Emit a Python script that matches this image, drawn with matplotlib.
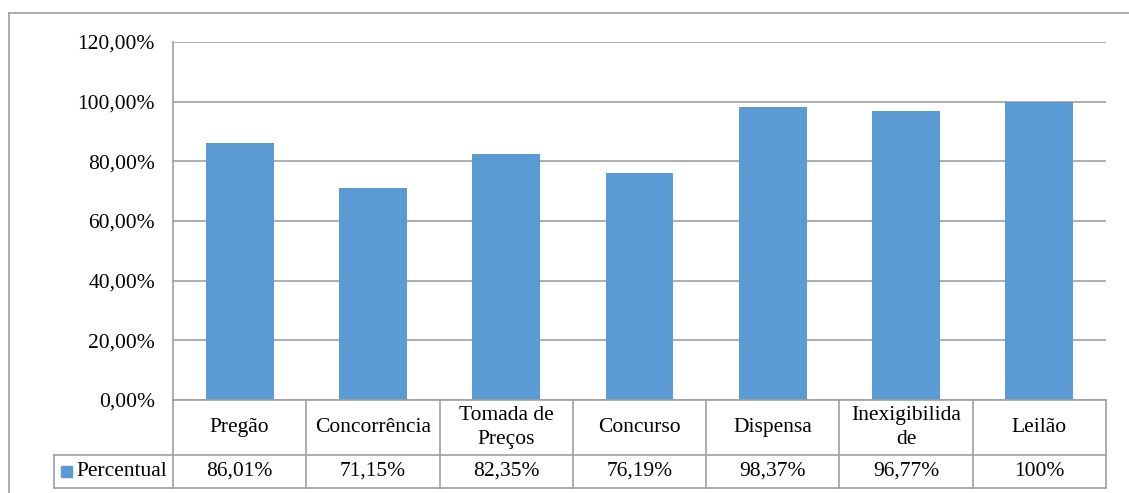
import matplotlib
matplotlib.use("Agg")
import matplotlib.pyplot as plt
from matplotlib.patches import Rectangle
from matplotlib.lines import Line2D
from matplotlib.transforms import blended_transform_factory

# procurement modalities and share (%)
categorias = ["Pregão", "Concorrência", "Tomada de\nPreços", "Concurso",
              "Dispensa", "Inexigibilida\nde", "Leilão"]
percentual = [86.01, 71.15, 82.35, 76.19, 98.37, 96.77, 100.0]
rotulos = ["86,01%", "71,15%", "82,35%", "76,19%", "98,37%", "96,77%", "100%"]
serie = "Percentual"

W, H = 1129, 493
azul = "#5B9BD5"
cinza = "#a0a0a0"
fs = 15.5

plt.rcParams["font.family"] = ["Liberation Serif", "DejaVu Serif"]

fig = plt.figure(figsize=(W / 100, H / 100), dpi=100)

def fx(x):
    return x / W

def fy(y):
    return 1 - y / H

# plot area
x0, x1, ytop, ybot = 173, 1106, 42, 400
ax = fig.add_axes([fx(x0), fy(ybot), fx(x1) - fx(x0), fy(ytop) - fy(ybot)])
n = len(categorias)
ax.bar(range(n), [v / 100 for v in percentual], width=0.51, color=azul, zorder=3)
ax.set_xlim(-0.5, n - 0.5)
ax.set_ylim(0, 1.2)
ticks = [0, 0.2, 0.4, 0.6, 0.8, 1.0, 1.2]
ax.set_yticks(ticks)
ax.set_yticklabels([f"{t*100:.2f}%".replace(".", ",") for t in ticks], fontsize=fs)
ax.tick_params(axis="y", length=0, pad=13)
ax.set_xticks([])
ax.grid(axis="y", color=cinza, linewidth=1.2, zorder=0)
for s in ["top", "right", "bottom"]:
    ax.spines[s].set_visible(False)
ax.spines["left"].set_color(cinza)
ax.spines["left"].set_linewidth(1.2)

# data table under the axis
tr = blended_transform_factory(ax.transData, fig.transFigure)
y_hdr, y_mid, y_end = 400, 455, 488
kw = dict(color=cinza, linewidth=1.2)
fig.add_artist(Line2D([-0.5, n - 0.5], [fy(y_hdr)] * 2, transform=tr, **kw))
for y in (y_mid, y_end):
    fig.add_artist(Line2D([fx(54), fx(x1)], [fy(y)] * 2, transform=fig.transFigure, **kw))
for i in range(n + 1):
    fig.add_artist(Line2D([i - 0.5] * 2, [fy(y_hdr), fy(y_end)], transform=tr, **kw))
fig.add_artist(Line2D([fx(54)] * 2, [fy(y_mid), fy(y_end)], transform=fig.transFigure, **kw))

for i, (c, r) in enumerate(zip(categorias, rotulos)):
    fig.text(i, fy((y_hdr + y_mid) / 2), c, transform=tr, ha="center", va="center",
             fontsize=fs, linespacing=1.3)
    fig.text(i, fy((y_mid + y_end) / 2), r, transform=tr, ha="center", va="center",
             fontsize=fs)

# legend key inside the table
fig.add_artist(Rectangle((fx(61), fy(477)), fx(11), fy(466) - fy(477),
                         transform=fig.transFigure, color=azul))
fig.text(fx(76), fy(471.5), serie, ha="left", va="center", fontsize=fs)

# chart frame
fig.add_artist(Line2D([fx(9), 1], [fy(13)] * 2, transform=fig.transFigure, **kw))
fig.add_artist(Line2D([fx(9)] * 2, [fy(13), 0], transform=fig.transFigure, **kw))

fig.savefig("out.png", dpi=100)
